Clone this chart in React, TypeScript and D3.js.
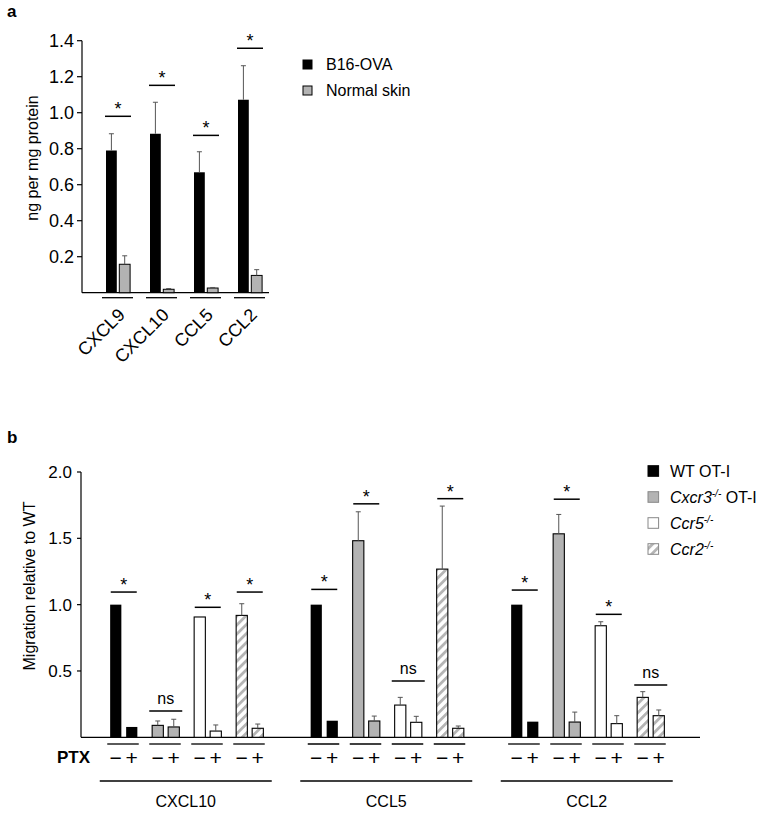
import React from "react";
import * as d3 from "d3";

// ---------- Panel a data ----------
const catsA = ["CXCL9", "CXCL10", "CCL5", "CCL2"];
const b16Values = [0.79, 0.883, 0.669, 1.072];
const b16Err = [0.093, 0.175, 0.114, 0.189];
const normalValues = [0.158, 0.019, 0.026, 0.096];
const normalErr = [0.047, 0.004, 0.003, 0.032];
const sigLevelA = [0.98, 1.152, 0.874, 1.358];
const ticksA = [0.2, 0.4, 0.6, 0.8, 1.0, 1.2, 1.4];
const legendA = ["B16-OVA", "Normal skin"];

// ---------- Panel b data ----------
const chemokinesB = ["CXCL10", "CCL5", "CCL2"];
const genotypes = ["WT", "Cxcr3", "Ccr5", "Ccr2"];
const cxcl10Minus = [1.0, 0.09, 0.907, 0.919];
const cxcl10MinusErr = [0, 0.033, 0, 0.088];
const cxcl10Plus = [0.078, 0.078, 0.047, 0.068];
const cxcl10PlusErr = [0, 0.058, 0.046, 0.032];
const ccl5Minus = [1.0, 1.482, 0.243, 1.268];
const ccl5MinusErr = [0, 0.218, 0.058, 0.475];
const ccl5Plus = [0.125, 0.123, 0.113, 0.068];
const ccl5PlusErr = [0, 0.037, 0.045, 0.017];
const ccl2Minus = [1.0, 1.534, 0.841, 0.301];
const ccl2MinusErr = [0, 0.146, 0.03, 0.043];
const ccl2Plus = [0.118, 0.115, 0.103, 0.163];
const ccl2PlusErr = [0, 0.075, 0.06, 0.043];
const cxcl10Sig = [1.095, 0.198, 0.98, 1.095];
const ccl5Sig = [1.115, 1.76, 0.424, 1.799];
const ccl2Sig = [1.11, 1.795, 0.927, 0.394];
const cxcl10SigLabel = ["*", "ns", "*", "*"];
const ccl5SigLabel = ["*", "*", "ns", "*"];
const ccl2SigLabel = ["*", "*", "*", "ns"];
const ticksB = [0.5, 1.0, 1.5, 2.0];

const FONT = "'Liberation Sans', Arial, Helvetica, sans-serif";

const genoFill: Record<string, string> = {
  WT: "#000",
  Cxcr3: "#b3b3b3",
  Ccr5: "#fff",
  Ccr2: "url(#hatch)",
};

export default function App() {
  // panel a scales
  const yA = d3.scaleLinear().domain([0, 1.4]).range([292.7, 40.7]);
  const xA = d3.scaleBand<string>().domain(catsA).range([96, 272]);
  const axA = 82;

  // panel b scales
  const yB = d3.scaleLinear().domain([0, 2]).range([737.3, 472]);
  const xG = d3.scaleBand<string>().domain(chemokinesB).range([86.5, 688]);
  const xP = d3.scaleBand<string>().domain(genotypes).range([-84, 84]);
  const axB = 81;

  const bData = chemokinesB.map((c, gi) => ({
    c,
    minus: [cxcl10Minus, ccl5Minus, ccl2Minus][gi],
    minusErr: [cxcl10MinusErr, ccl5MinusErr, ccl2MinusErr][gi],
    plus: [cxcl10Plus, ccl5Plus, ccl2Plus][gi],
    plusErr: [cxcl10PlusErr, ccl5PlusErr, ccl2PlusErr][gi],
    sig: [cxcl10Sig, ccl5Sig, ccl2Sig][gi],
    sigLabel: [cxcl10SigLabel, ccl5SigLabel, ccl2SigLabel][gi],
  }));

  const errBar = (x: number, top: number, y: number, key: string) => (
    <g key={key} stroke="#555" strokeWidth={1}>
      <line x1={x} x2={x} y1={top} y2={y} />
      <line x1={x - 2.5} x2={x + 2.5} y1={y} y2={y} />
    </g>
  );

  return (
    <svg
      width={764}
      height={815}
      style={{ position: "absolute", left: 0, top: 0, background: "#fff" }}
      fontFamily={FONT}
    >
      <defs>
        <pattern
          id="hatch"
          patternUnits="userSpaceOnUse"
          width={6.4}
          height={6.4}
          patternTransform="rotate(45)"
        >
          <rect width={6.4} height={6.4} fill="#fff" />
          <rect x={0} y={0} width={2.8} height={6.4} fill="#b5b5b5" />
        </pattern>
      </defs>
      <rect width={764} height={815} fill="#fff" />

      {/* ================= Panel a ================= */}
      <text x={7} y={17} fontSize={17} fontWeight="bold">a</text>
      <line x1={axA} x2={axA} y1={yA(1.4)} y2={yA(0)} stroke="#000" strokeWidth={1.2} />
      {ticksA.map((t) => (
        <g key={t}>
          <line x1={axA - 5} x2={axA} y1={yA(t)} y2={yA(t)} stroke="#000" strokeWidth={1.2} />
          <text x={axA - 8} y={yA(t)} dy="0.36em" textAnchor="end" fontSize={18}>
            {t.toFixed(1)}
          </text>
        </g>
      ))}
      <line x1={axA} x2={269} y1={yA(0)} y2={yA(0)} stroke="#000" strokeWidth={1.2} />
      <text
        transform={`translate(32,158) rotate(-90)`}
        textAnchor="middle"
        dy="0.35em"
        fontSize={16}
      >
        ng per mg protein
      </text>
      {catsA.map((c, i) => {
        const cx = xA(c)! + xA.bandwidth() / 2;
        const bx = cx - 12;
        const gx = cx + 1.3;
        const w = 10.8;
        const sy = yA(sigLevelA[i]);
        return (
          <g key={c}>
            <rect x={bx} y={yA(b16Values[i])} width={w} height={yA(0) - yA(b16Values[i])} fill="#000" />
            {errBar(bx + w / 2, yA(b16Values[i]), yA(b16Values[i] + b16Err[i]), "e1")}
            <rect x={gx} y={yA(normalValues[i])} width={w} height={yA(0) - yA(normalValues[i])} fill="#b3b3b3" stroke="#000" strokeWidth={1} />
            {errBar(gx + w / 2, yA(normalValues[i]), yA(normalValues[i] + normalErr[i]), "e2")}
            <line x1={cx - 13} x2={cx + 13} y1={sy} y2={sy} stroke="#000" strokeWidth={1.5} />
            <text x={cx} y={sy - 1} textAnchor="middle" fontSize={18}>*</text>
            <line x1={cx - 16} x2={cx + 15} y1={297.7} y2={297.7} stroke="#000" strokeWidth={1.3} />
            <text
              transform={`translate(${cx + 8},316) rotate(-45)`}
              textAnchor="end"
              fontSize={18}
            >
              {c}
            </text>
          </g>
        );
      })}
      {legendA.map((l, i) => (
        <g key={l}>
          <rect x={303} y={60 + i * 26} width={9} height={9} fill={i === 0 ? "#000" : "#b3b3b3"} stroke="#000" strokeWidth={1} />
          <text x={326} y={64.5 + i * 26} dy="0.35em" fontSize={16}>{l}</text>
        </g>
      ))}

      {/* ================= Panel b ================= */}
      <text x={7} y={443} fontSize={17} fontWeight="bold">b</text>
      <line x1={axB} x2={axB} y1={yB(2)} y2={yB(0)} stroke="#000" strokeWidth={1.2} />
      {ticksB.map((t) => (
        <g key={t}>
          <line x1={axB - 4} x2={axB} y1={yB(t)} y2={yB(t)} stroke="#000" strokeWidth={1.2} />
          <text x={axB - 9} y={yB(t)} dy="0.36em" textAnchor="end" fontSize={17}>
            {t.toFixed(1)}
          </text>
        </g>
      ))}
      <line x1={axB} x2={700} y1={yB(0)} y2={yB(0)} stroke="#000" strokeWidth={1.2} />
      <text
        transform={`translate(29,586) rotate(-90)`}
        textAnchor="middle"
        dy="0.35em"
        fontSize={16}
      >
        Migration relative to WT
      </text>
      <text x={90} y={757} dy="0.36em" textAnchor="end" fontSize={17} fontWeight="bold">PTX</text>

      {bData.map((g) => {
        const gc = xG(g.c)! + xG.bandwidth() / 2;
        return (
          <g key={g.c}>
            {genotypes.map((geno, i) => {
              const pc = gc + xP(geno)! + xP.bandwidth() / 2;
              const w = 11.2;
              const mx = pc - 13.6;
              const px = pc + 2.4;
              const fill = genoFill[geno];
              const stroke = geno === "WT" ? "none" : "#000";
              const sy = yB(g.sig[i]);
              const isNs = g.sigLabel[i] === "ns";
              return (
                <g key={geno}>
                  <rect x={mx} y={yB(g.minus[i])} width={w} height={yB(0) - yB(g.minus[i])} fill={fill} stroke={stroke} strokeWidth={1.1} />
                  {g.minusErr[i] > 0 && errBar(mx + w / 2, yB(g.minus[i]), yB(g.minus[i] + g.minusErr[i]), "em")}
                  <rect x={px} y={yB(g.plus[i])} width={w} height={yB(0) - yB(g.plus[i])} fill={fill} stroke={stroke} strokeWidth={1.1} />
                  {g.plusErr[i] > 0 && errBar(px + w / 2, yB(g.plus[i]), yB(g.plus[i] + g.plusErr[i]), "ep")}
                  <line x1={pc - (isNs ? 16.5 : 13)} x2={pc + (isNs ? 16.5 : 13)} y1={sy} y2={sy} stroke="#000" strokeWidth={1.5} />
                  <text x={pc} y={isNs ? sy - 7 : sy - 1} textAnchor="middle" fontSize={isNs ? 16 : 18}>
                    {g.sigLabel[i]}
                  </text>
                  <line x1={pc - 16.5} x2={pc + 15} y1={744} y2={744} stroke="#000" strokeWidth={1.3} />
                  <text x={mx + w / 2} y={757} dy="0.36em" textAnchor="middle" fontSize={21}>−</text>
                  <text x={px + w / 2} y={757} dy="0.36em" textAnchor="middle" fontSize={21}>+</text>
                </g>
              );
            })}
            <line x1={gc - 87} x2={gc + 85} y1={781} y2={781} stroke="#000" strokeWidth={1.3} />
            <text x={gc - 1} y={801.5} dy="0.36em" textAnchor="middle" fontSize={16}>{g.c}</text>
          </g>
        );
      })}

      {genotypes.map((geno, i) => {
        const y = 471 + i * 26;
        const fill = genoFill[geno];
        const stroke = geno === "WT" ? "#000" : "#888";
        return (
          <g key={geno}>
            <rect x={648} y={y - 5.3} width={10.6} height={10.6} fill={fill} stroke={stroke} strokeWidth={1} />
            <text x={670} y={y} dy="0.36em" fontSize={16}>
              {geno === "WT" ? (
                "WT OT-I"
              ) : (
                <>
                  <tspan fontStyle="italic">{geno}</tspan>
                  <tspan fontSize={10} dy={-6} fontStyle="italic">-/-</tspan>
                  {geno === "Cxcr3" ? <tspan dy={6}> OT-I</tspan> : null}
                </>
              )}
            </text>
          </g>
        );
      })}
    </svg>
  );
}
